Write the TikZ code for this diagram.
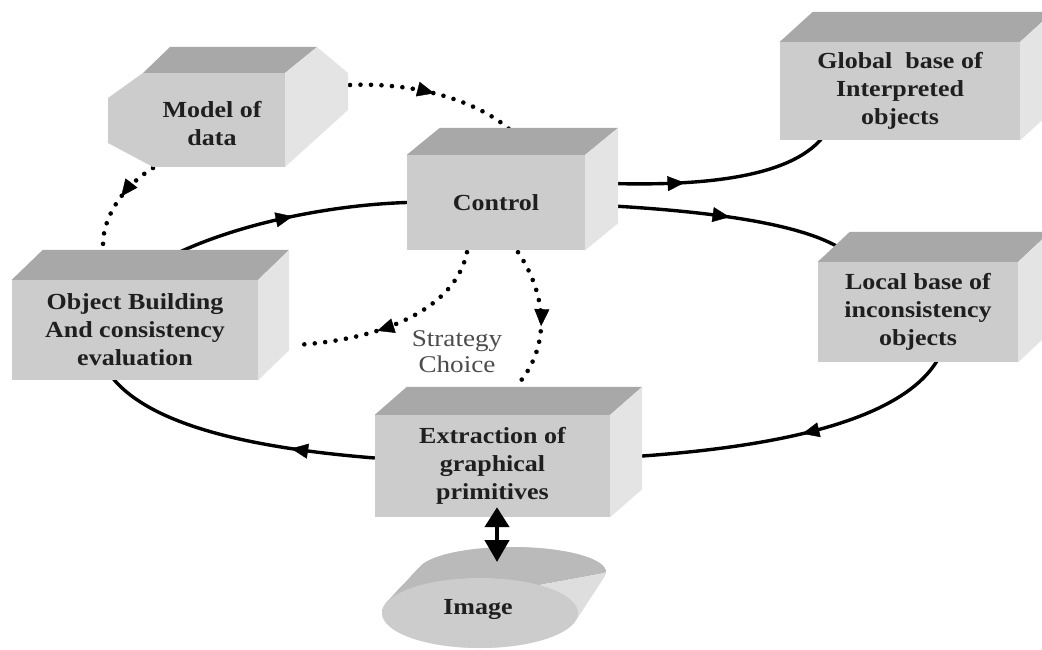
\documentclass[tikz,border=0pt]{standalone}
\usepackage{fontspec}
\setmainfont{Liberation Serif}
\newfontfamily\boxfont[FakeStretch=1.13]{Liberation Serif}
\usetikzlibrary{calc,arrows.meta,decorations.markings}
\pgfdeclarelayer{bg}
\pgfsetlayers{bg,main}
\definecolor{frontc}{RGB}{204,204,204}
\definecolor{topc}{RGB}{168,168,168}
\definecolor{sidec}{RGB}{228,228,228}
\definecolor{imgtop}{RGB}{186,186,186}
\definecolor{imgside}{RGB}{222,222,222}
\newcommand\cubefaces[3]{%
  \fill[topc] (#1.north west) -- ++(#2,-#3) -- ($(#1.north east)+(#2,-#3)$) -- (#1.north east) -- cycle;
  \fill[sidec] (#1.north east) -- ++(#2,-#3) -- ($(#1.south east)+(#2,-#3)$) -- (#1.south east) -- cycle;
}
\tikzset{
  boxface/.style={fill=frontc, draw=none, inner sep=0pt, align=center,
    font=\boxfont\bfseries\fontsize{23}{28}\selectfont, text=black!88},
  flow/.style={line width=3.4pt, black},
  dots/.style={line width=4.6pt, line cap=round, dash pattern=on 0pt off 10.5pt},
  midarrow/.style={postaction={decorate}, decoration={markings,
    mark=at position #1 with {\arrow{Triangle[length=17pt,width=15pt,line width=0.4pt]}}}},
}
\begin{document}
\begin{tikzpicture}[x=1pt,y=-1pt]
\useasboundingbox (0,0) rectangle (1042,650);
\clip (0,0) rectangle (1042,650);

% ---- boxes ----
\node[boxface, minimum width=178pt, minimum height=95pt] (ctrl) at (496,202.5) {Control};
\cubefaces{ctrl}{33}{27}
\node[boxface, minimum width=240pt, minimum height=98pt] (glob) at (900,91) {Global\ \ base of\\Interpreted\\objects};
\cubefaces{glob}{33}{30}
\node[boxface, minimum width=200pt, minimum height=100pt] (loc) at (918,312) {Local base of\\inconsistency\\objects};
\cubefaces{loc}{32}{30}
\node[boxface, minimum width=246pt, minimum height=100pt] (obj) at (135,330) {Object Building\\And consistency\\evaluation};
\cubefaces{obj}{31}{30}
\node[boxface, minimum width=235pt, minimum height=102pt] (ext) at (492.5,466) {Extraction of\\graphical\\primitives};
\cubefaces{ext}{32}{28}

% ---- model of data (bevelled prism) ----
\fill[frontc] (108,98) -- (143,73) -- (285,73) -- (285,167) -- (153,167) -- (108,143) -- cycle;
\fill[topc] (143,73) -- (170,47) -- (317,47) -- (285,73) -- cycle;
\fill[sidec] (285,73) -- (317,47) -- (348,73) -- (348,110) -- (285,167) -- cycle;
\node[boxface, fill=none] (mod) at (212,124) {Model of\\data};
\coordinate (modR) at (350,85);
\coordinate (modB) at (153,168);

% ---- image (slanted disk) ----
\foreach \t in {0,0.02,...,1.001}{
  \fill[imgside] ({512-32*\t},{572+41*\t}) ellipse [x radius={94+4*\t}, y radius={25+10*\t}];
}
\begin{scope}
  \clip (382,613) -- (606,572) -- (620,530) -- (370,530) -- cycle;
  \foreach \t in {0,0.02,...,1.001}{
    \fill[imgtop] ({512-32*\t},{572+41*\t}) ellipse [x radius={94+4*\t}, y radius={25+10*\t}];
  }
\end{scope}
\fill[frontc] (480,613) ellipse [x radius=98, y radius=35];
\node[boxface, fill=none] (img) at (478,610) {Image};

% ---- strategy label ----
\node[font=\boxfont\fontsize{24}{26}\selectfont, text=black!70, align=center] (strat) at (457,352) {Strategy\\Choice};

% ---- connectors ----
\begin{pgfonlayer}{bg}
\draw[flow, midarrow=0.55] ($(obj.north)+(25,-18)$) .. controls (230,224) and (330,205) .. (ctrl.west);
\draw[flow, midarrow=0.55] ($(ctrl.east)+(0,2)$) .. controls (700,210) and (800,222) .. ($(loc.north west)+(25,-12)$);
\draw[flow, midarrow=0.4] ($(ctrl.east)+(0,-20)$) .. controls (700,188) and (790,178) .. ($(glob.south west)+(43,-3)$);
\draw[flow, midarrow=0.45] ($(loc.south)+(20,-3)$) .. controls (900,425) and (760,450) .. ($(ext.east)+(0,-8)$);
\draw[flow, midarrow=0.3] ($(ext.west)+(0,-8)$) .. controls (250,448) and (150,425) .. ($(obj.south)+(-23,-3)$);

\draw[dots, midarrow=0.5] (modR) .. controls (420,82) and (480,103) .. ($(ctrl.north)+(14,-25)$);
\draw[dots, midarrow=0.45] (modB) .. controls (125,185) and (103,215) .. ($(obj.north)+(-32,-35)$);
\draw[dots, midarrow=0.6] ($(ctrl.south)+(-29,2)$) .. controls (455,310) and (380,340) .. ($(obj.east)+(37,15)$);
\draw[dots, midarrow=0.55] ($(ctrl.south)+(22,2)$) .. controls (550,300) and (548,350) .. ($(ext.north)+(25,-30)$);
\end{pgfonlayer}

% ---- double arrow extraction <-> image ----
\draw[line width=4.5pt, {Triangle[length=20pt,width=24pt]}-{Triangle[length=22pt,width=24pt]}]
  ($(ext.south)+(4.5,-10)$) -- ($(img)+(19,-48)$);
\end{tikzpicture}
\end{document}
